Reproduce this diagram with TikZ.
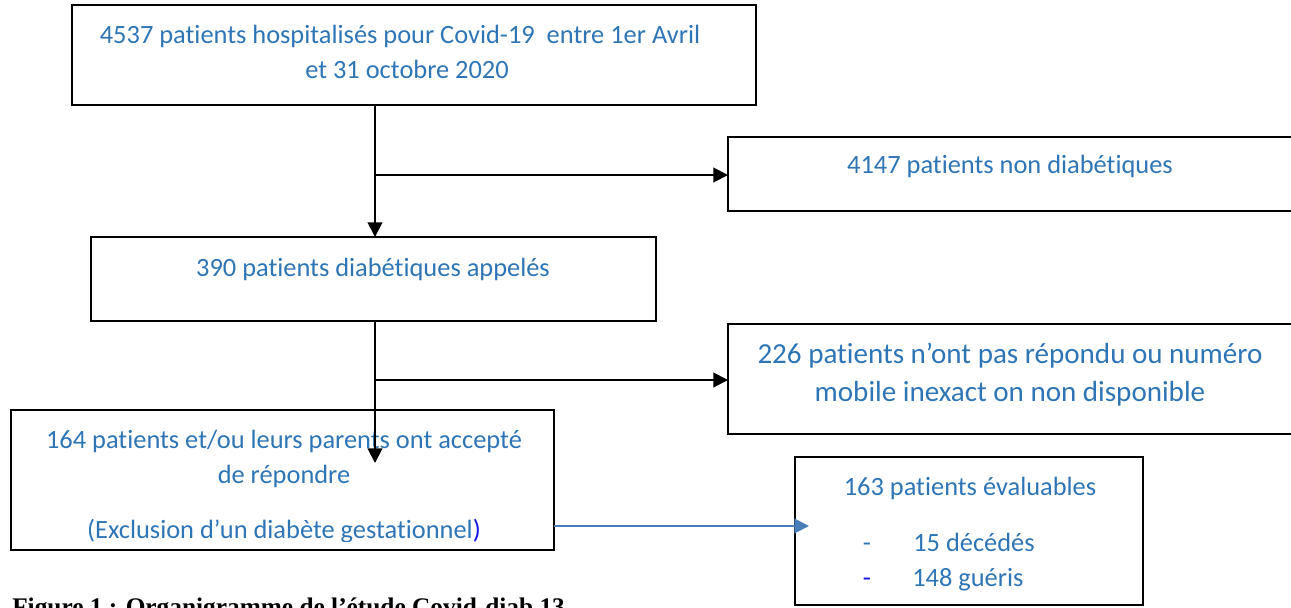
\documentclass[tikz,border=0pt]{standalone}
\usepackage{fontspec}
\setmainfont{Carlito}[Ligatures=NoCommon]
\newfontfamily\capfont{Liberation Serif}
\usetikzlibrary{arrows.meta}
\definecolor{txtblue}{RGB}{46,117,182}
\definecolor{lineblue}{RGB}{74,126,187}
\definecolor{parenblue}{RGB}{20,20,230}
\begin{document}
\begin{tikzpicture}[x=0.75pt,y=-0.75pt,
  box/.style={draw=black,line width=1.6pt,inner sep=0pt,outer sep=0pt,rectangle},
  lbl/.style={text=txtblue,font=\fontsize{19.8}{23}\selectfont,anchor=base,inner sep=0pt},
  biglbl/.style={lbl,font=\fontsize{21.8}{25}\selectfont},
  flow/.style={draw=black,line width=1.5pt,-{Triangle[length=11pt,width=11pt]}},
  blueflow/.style={draw=lineblue,line width=1.5pt,-{Triangle[length=11pt,width=11pt]}}]
\useasboundingbox (0,0) rectangle (1291,607);

% boxes
\node[box,minimum width=513pt,minimum height=75pt] (b1) at (414,55) {};
\node[box,minimum width=425.25pt,minimum height=55.5pt] (b2) at (1011.5,174) {};
\node[box,minimum width=423.75pt,minimum height=63pt] (b3) at (373.5,279) {};
\node[box,minimum width=425.25pt,minimum height=82.5pt] (b4) at (1011.5,379) {};
\node[box,minimum width=407.25pt,minimum height=105pt] (b5) at (282.5,480) {};
\node[box,minimum width=261pt,minimum height=111pt] (b6) at (969,531) {};

% texts
\node[lbl] (t1a) at (400,43) {4537 patients hospitalisés pour Covid-19\ \ entre 1er Avril};
\node[lbl] (t1b) at (407,78) {et 31 octobre 2020};
\node[lbl] (t2) at (1010,173) {4147 patients non diabétiques};
\node[lbl] (t3) at (373,276) {390 patients diabétiques appelés};
\node[biglbl] (t4a) at (1010,363) {226 patients n’ont pas répondu ou numéro};
\node[biglbl] (t4b) at (1010,401) {mobile inexact on non disponible};
\node[lbl] (t5a) at (284,448) {164 patients et/ou leurs parents ont accepté};
\node[lbl] (t5b) at (284,483) {de répondre};
\begin{scope}
  \clip (11,410) rectangle (554,541);
  \node[lbl] (t5c) at (284,538) {(Exclusion d’un diabète gestationnel\textcolor{parenblue}{)}};
\end{scope}
\node[lbl] (t6a) at (970,495) {163 patients évaluables};
\node[lbl] (d1) at (867,551) {-};
\node[lbl,anchor=base west] (t6b) at (913,551) {15 décédés};
\node[lbl,text=parenblue] (d2) at (867,586) {-};
\node[lbl,anchor=base west] (t6c) at (912,586) {148 guéris};

% caption, cut by the page edge
\node[anchor=base west,inner sep=0pt,font=\capfont\bfseries\fontsize{19}{22}\selectfont] (cap) at (12,615)
  {Figure 1 : Organigramme de l’étude Covid-diab 13};

% connectors
\coordinate (j1) at (375,175);
\coordinate (j2) at (375,380);
\coordinate (e2) at (375,463);
\coordinate (e3) at (809,526);
\draw[flow] (b1.south -| j1) -- (b3.north -| j1);
\draw[flow] (j1) -- (b2.west |- j1);
\draw[flow] (b3.south -| j2) -- (e2);
\draw[flow] (j2) -- (b4.west |- j2);
\draw[blueflow] (b5.east |- e3) -- (e3);
\end{tikzpicture}
\end{document}
